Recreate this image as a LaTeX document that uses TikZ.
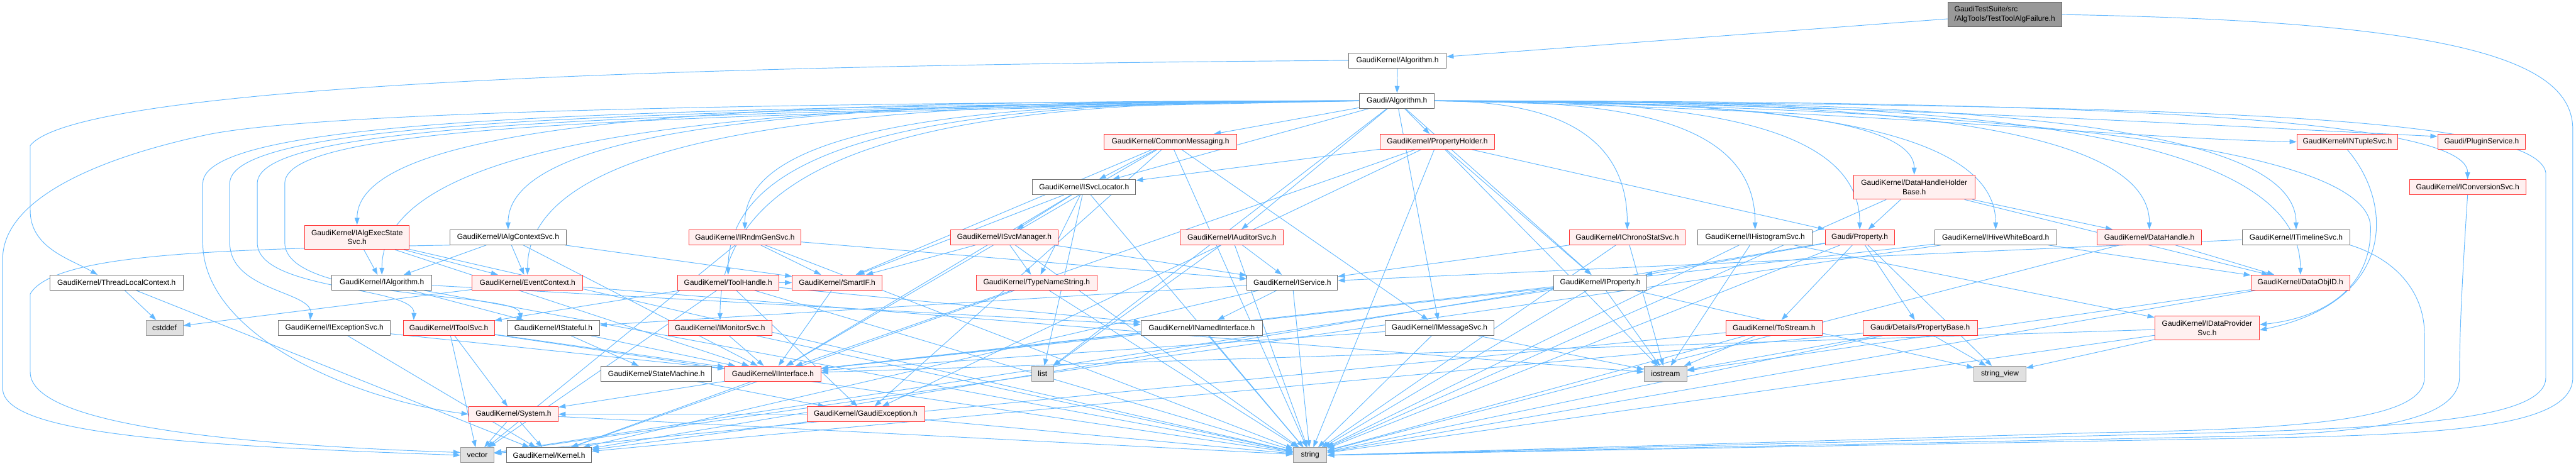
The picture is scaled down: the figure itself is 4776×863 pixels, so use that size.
\documentclass[tikz,border=0pt]{standalone}
\usepackage{fontspec}
\setmainfont{Liberation Sans}
\usetikzlibrary{arrows.meta}
\pgfdeclarelayer{bg}
\pgfsetlayers{bg,main}
\definecolor{ecol}{RGB}{99,184,255}
\definecolor{rbord}{RGB}{255,50,50}
\definecolor{rfill}{RGB}{255,240,240}
\definecolor{gbord}{RGB}{153,153,153}
\definecolor{gfill}{RGB}{224,224,224}
\definecolor{wbord}{RGB}{110,110,110}
\definecolor{tfill}{RGB}{153,153,153}
\definecolor{tbord}{RGB}{102,102,102}
\begin{document}
\begin{tikzpicture}[x=0.25pt,y=-0.25pt,
  box/.style={font=\fontsize{3.5}{4.25}\selectfont, inner sep=0pt, minimum height=7pt, line width=0.275pt, align=center},
  mw/.style={minimum width=#1*0.25pt},
  twoline/.style={minimum height=11.25pt},
  wbox/.style={box, draw=wbord, fill=white},
  rbox/.style={box, draw=rbord, fill=rfill},
  gbox/.style={box, draw=gbord, fill=gfill},
  tbox/.style={box, draw=tbord, fill=tfill},
  conn/.style={draw=ecol, line width=0.275pt, -{Triangle[length=3.25pt,width=2.25pt]}}]
\useasboundingbox (0,0) rectangle (4776,863);
% ---------- nodes ----------
\node[tbox, mw=211, twoline, align=left] (T) at (3717,27) {GaudiTestSuite/src\\/AlgTools/TestToolAlgFailure.h};
\node[wbox, mw=181] (KA) at (2591,112) {GaudiKernel/Algorithm.h};
\node[wbox, mw=139] (GA) at (2590,187) {Gaudi/Algorithm.h};
\node[rbox, mw=246] (CM) at (2170,263) {GaudiKernel/CommonMessaging.h};
\node[rbox, mw=213] (PH) at (2665,263) {GaudiKernel/PropertyHolder.h};
\node[rbox, mw=187] (NT) at (4352,263) {GaudiKernel/INTupleSvc.h};
\node[rbox, mw=163] (PS) at (4601,263) {Gaudi/PluginService.h};
\node[wbox, mw=191] (SL) at (2010,347) {GaudiKernel/ISvcLocator.h};
\node[rbox, mw=225, twoline] (DHB) at (3549,347) {GaudiKernel/DataHandleHolder\\Base.h};
\node[rbox, mw=216] (CS) at (4575,347) {GaudiKernel/IConversionSvc.h};
\node[rbox, mw=194, twoline] (AES) at (662,440) {GaudiKernel/IAlgExecState\\Svc.h};
\node[wbox, mw=215] (ACS) at (942,440) {GaudiKernel/IAlgContextSvc.h};
\node[rbox, mw=208] (RGS) at (1381,440) {GaudiKernel/IRndmGenSvc.h};
\node[rbox, mw=200] (SM) at (1862,440) {GaudiKernel/ISvcManager.h};
\node[rbox, mw=191] (AUS) at (2284,440) {GaudiKernel/IAuditorSvc.h};
\node[rbox, mw=215] (CSS) at (3017,440) {GaudiKernel/IChronoStatSvc.h};
\node[wbox, mw=212] (HS) at (3254,440) {GaudiKernel/IHistogramSvc.h};
\node[rbox, mw=128] (GP) at (3448,440) {Gaudi/Property.h};
\node[wbox, mw=226] (HWB) at (3700,440) {GaudiKernel/IHiveWhiteBoard.h};
\node[rbox, mw=194] (DH) at (3985,440) {GaudiKernel/DataHandle.h};
\node[wbox, mw=200] (TLS) at (4257,440) {GaudiKernel/ITimelineSvc.h};
\node[wbox, mw=247] (TLC) at (216,524) {GaudiKernel/ThreadLocalContext.h};
\node[wbox, mw=185] (IA) at (708,524) {GaudiKernel/IAlgorithm.h};
\node[rbox, mw=205] (EC) at (978,524) {GaudiKernel/EventContext.h};
\node[rbox, mw=188] (TH) at (1350,524) {GaudiKernel/ToolHandle.h};
\node[rbox, mw=166] (SIF) at (1552,524) {GaudiKernel/SmartIF.h};
\node[rbox, mw=223] (TNS) at (1922,524) {GaudiKernel/TypeNameString.h};
\node[wbox, mw=168] (IS) at (2396,524) {GaudiKernel/IService.h};
\node[wbox, mw=173] (IP) at (2967,524) {GaudiKernel/IProperty.h};
\node[rbox, mw=183] (DOI) at (4265,524) {GaudiKernel/DataObjID.h};
\node[gbox, mw=69] (CD) at (305,608) {cstddef};
\node[wbox, mw=207] (ES) at (620,608) {GaudiKernel/IExceptionSvc.h};
\node[rbox, mw=169] (TS) at (832,608) {GaudiKernel/IToolSvc.h};
\node[wbox, mw=171] (ST) at (1026,608) {GaudiKernel/IStateful.h};
\node[rbox, mw=193] (MS) at (1335,608) {GaudiKernel/IMonitorSvc.h};
\node[wbox, mw=225] (NI) at (2228,608) {GaudiKernel/INamedInterface.h};
\node[wbox, mw=201] (MSG) at (2669,608) {GaudiKernel/IMessageSvc.h};
\node[rbox, mw=178] (TSt) at (3289,608) {GaudiKernel/ToStream.h};
\node[rbox, mw=212] (PB) at (3560,608) {Gaudi/Details/PropertyBase.h};
\node[rbox, mw=194, twoline] (DPS) at (4092,608) {GaudiKernel/IDataProvider\\Svc.h};
\node[wbox, mw=205] (SMa) at (1217,693) {GaudiKernel/StateMachine.h};
\node[rbox, mw=178] (II) at (1433,693) {GaudiKernel/IInterface.h};
\node[gbox, mw=41] (LI) at (1933,693) {list};
\node[gbox, mw=79] (IOS) at (3088,693) {iostream};
\node[gbox, mw=96] (SV) at (3708,693) {string\_view};
\node[rbox, mw=166] (SYS) at (952,768) {GaudiKernel/System.h};
\node[rbox, mw=218] (GE) at (1605,768) {GaudiKernel/GaudiException.h};
\node[gbox, mw=62] (VEC) at (885,844) {vector};
\node[wbox, mw=157] (KER) at (1018,844) {GaudiKernel/Kernel.h};
\node[gbox, mw=62] (STR) at (2429,844) {string};
% ---------- connectors ----------
\begin{pgfonlayer}{bg}
\draw[conn] (T) -- (KA);
\draw[conn] (T.east) .. controls (4550,40) and (4770,110) .. (4770,240) -- (4770,700) .. controls (4770,790) and (4550,805) .. (4200,812) -- (STR.east);
\draw[conn] (KA) -- (GA);
\draw[conn] (KA.west) .. controls (1400,120) and (150,150) .. (56,270) -- (56,390) .. controls (56,460) and (130,480) .. ([xshift=-8.75pt]TLC.north);
% Gaudi/Algorithm.h fan
\foreach \t in {CM,PH,SL,AUS,MSG,IP,LI} \draw[conn] (GA) -- (\t);
\draw[conn] (GA.west) .. controls +(-900,0) and +(0,-220) .. (AES.north);
\draw[conn] (GA.west) .. controls +(-780,0) and +(0,-220) .. (ACS.north);
\draw[conn] (GA.west) .. controls +(-880,0) and +(0,-300) .. (IA.north);
\draw[conn] (GA.west) .. controls +(-750,0) and +(0,-300) .. (EC.north);
\draw[conn] (GA.west) .. controls +(-550,0) and +(0,-220) .. (RGS.north);
\draw[conn] (GA.west) .. controls +(-560,0) and +(0,-300) .. (TH.north);
\draw[conn] (GA.west) .. controls +(-560,0) and +(0,-380) .. (MS.north);
\draw[conn] (GA.east) .. controls +(180,0) and +(0,-200) .. (CSS.north);
\draw[conn] (GA.east) .. controls +(300,0) and +(0,-220) .. (HS.north);
\draw[conn] (GA.east) .. controls +(390,0) and +(0,-220) .. (GP.north);
\draw[conn] (GA.east) .. controls +(500,0) and +(0,-220) .. (HWB.north);
\draw[conn] (GA.east) .. controls +(650,0) and +(0,-220) .. (DH.north);
\draw[conn] (GA.east) .. controls +(800,0) and +(0,-220) .. (TLS.north);
\draw[conn] (GA.east) .. controls +(440,0) and +(0,-120) .. (DHB.north);
\draw[conn] (GA.east) .. controls +(800,0) and +(0,-300) .. (DOI.north);
\draw[conn] (GA.east) .. controls +(950,0) and +(0,-130) .. (CS.north);
\draw[conn] (GA.east) .. controls (3500,205) and (3900,255) .. (NT.west);
\draw[conn] (GA.east) .. controls (3500,195) and (4000,228) .. ([yshift=2.5pt]PS.west);
\draw[conn] (GA.east) .. controls (3800,200) and (4390,280) .. (4395,420) .. controls (4398,540) and (4300,590) .. ([yshift=1.5pt]DPS.east);
\draw[conn] (GA.east) .. controls (4000,195) and (4700,210) .. (4720,320) -- (4720,700) .. controls (4720,780) and (4450,795) .. (4000,805) -- (STR.east);
\draw[conn] (GA.west) .. controls (1500,190) and (600,205) .. (383,250) .. controls (150,300) and (5,380) .. (5,480) -- (5,720) .. controls (5,800) and (300,825) .. (VEC.west);
\draw[conn] (GA.west) .. controls (1200,200) and (376,215) .. (376,340) -- (376,450) .. controls (376,620) and (650,740) .. (SYS.west);
\draw[conn] (GA.west) .. controls (1200,205) and (426,220) .. (426,340) -- (426,450) .. controls (426,540) and (580,540) .. ([xshift=-11.25pt]ES.north);
\draw[conn] (GA.west) .. controls (1200,210) and (477,225) .. (477,340) -- (477,450) .. controls (477,540) and (770,530) .. ([xshift=-16.25pt]TS.north);
\draw[conn] (GA.west) .. controls (1200,215) and (528,230) .. (528,340) -- (528,450) .. controls (528,560) and (960,540) .. ([xshift=-15pt]ST.north);
% other loops
\draw[conn] (ACS.south west) .. controls (400,462) and (100,470) .. (56,545) -- (56,690) .. controls (56,790) and (450,825) .. ([yshift=1.25pt]VEC.west);
\draw[conn] (NT.south) .. controls (4440,380) and (4440,560) .. ([yshift=-1pt]DPS.east);
\draw[conn] (CS.south) .. controls (4562,560) and (4560,640) .. (4560,700) .. controls (4558,790) and (4350,805) .. (4100,810) -- (STR.east);
\draw[conn] (TLS.south east) .. controls (4440,480) and (4495,540) .. (4495,620) -- (4495,700) .. controls (4495,775) and (4300,795) .. (3900,802) -- (STR.east);
% straight connectors
\foreach \s/\t in {CM/SL, CM/MSG, CM/SIF, CM/GE, CM/STR, CM/II,
 PH/SL, PH/GP, PH/IOS, PH/IP, PH/STR, PH/GE, PH/II,
 AES/IA, AES/EC, AES/II, AES/STR,
 ACS/IA, ACS/EC, ACS/SIF, ACS/II,
 RGS/SIF, RGS/IS, RGS/STR, RGS/VEC,
 SM/SIF, SM/TNS, SM/STR, SM/IS,
 AUS/IS, AUS/LI, AUS/STR,
 CSS/IS, CSS/IOS, CSS/STR,
 HS/DPS, HS/IOS, HS/STR,
 GP/PB, GP/TSt, GP/SV, GP/IP, GP/KER, GP/STR,
 HWB/DOI, HWB/II, HWB/VEC,
 DH/DOI, DH/STR,
 TLS/IS,
 DHB/DH, DHB/DOI, DHB/GP, DHB/STR,
 SL/SM, SL/TNS, SL/LI, SL/STR, SL/SIF, SL/II,
 TLC/CD, TLC/KER,
 IA/NI, IA/ST, IA/STR,
 EC/CD, EC/IOS,
 TH/TS, TH/NI, TH/GE, TH/SIF, TH/STR, TH/VEC,
 SIF/II,
 TNS/STR, TNS/KER,
 IS/NI, IS/ST, IS/KER, IS/STR,
 IP/II, IP/STR, IP/VEC, IP/IOS, IP/SV,
 DOI/IOS, DOI/STR,
 ES/II, ES/KER,
 TS/II, TS/SYS, TS/VEC, TS/STR,
 ST/II, ST/SMa,
 MS/II, MS/STR,
 NI/II, NI/STR,
 MSG/II, MSG/STR, MSG/IOS,
 TSt/IOS, TSt/STR, TSt/VEC,
 PB/SV, PB/KER, PB/STR, PB/IOS,
 DPS/SV, DPS/II, DPS/STR,
 SMa/GE,
 II/SYS, II/KER,
 SYS/VEC, SYS/KER, SYS/STR,
 GE/KER, GE/SYS, GE/STR}
 \draw[conn] (\s) -- (\t);
\end{pgfonlayer}
\end{tikzpicture}
\end{document}
